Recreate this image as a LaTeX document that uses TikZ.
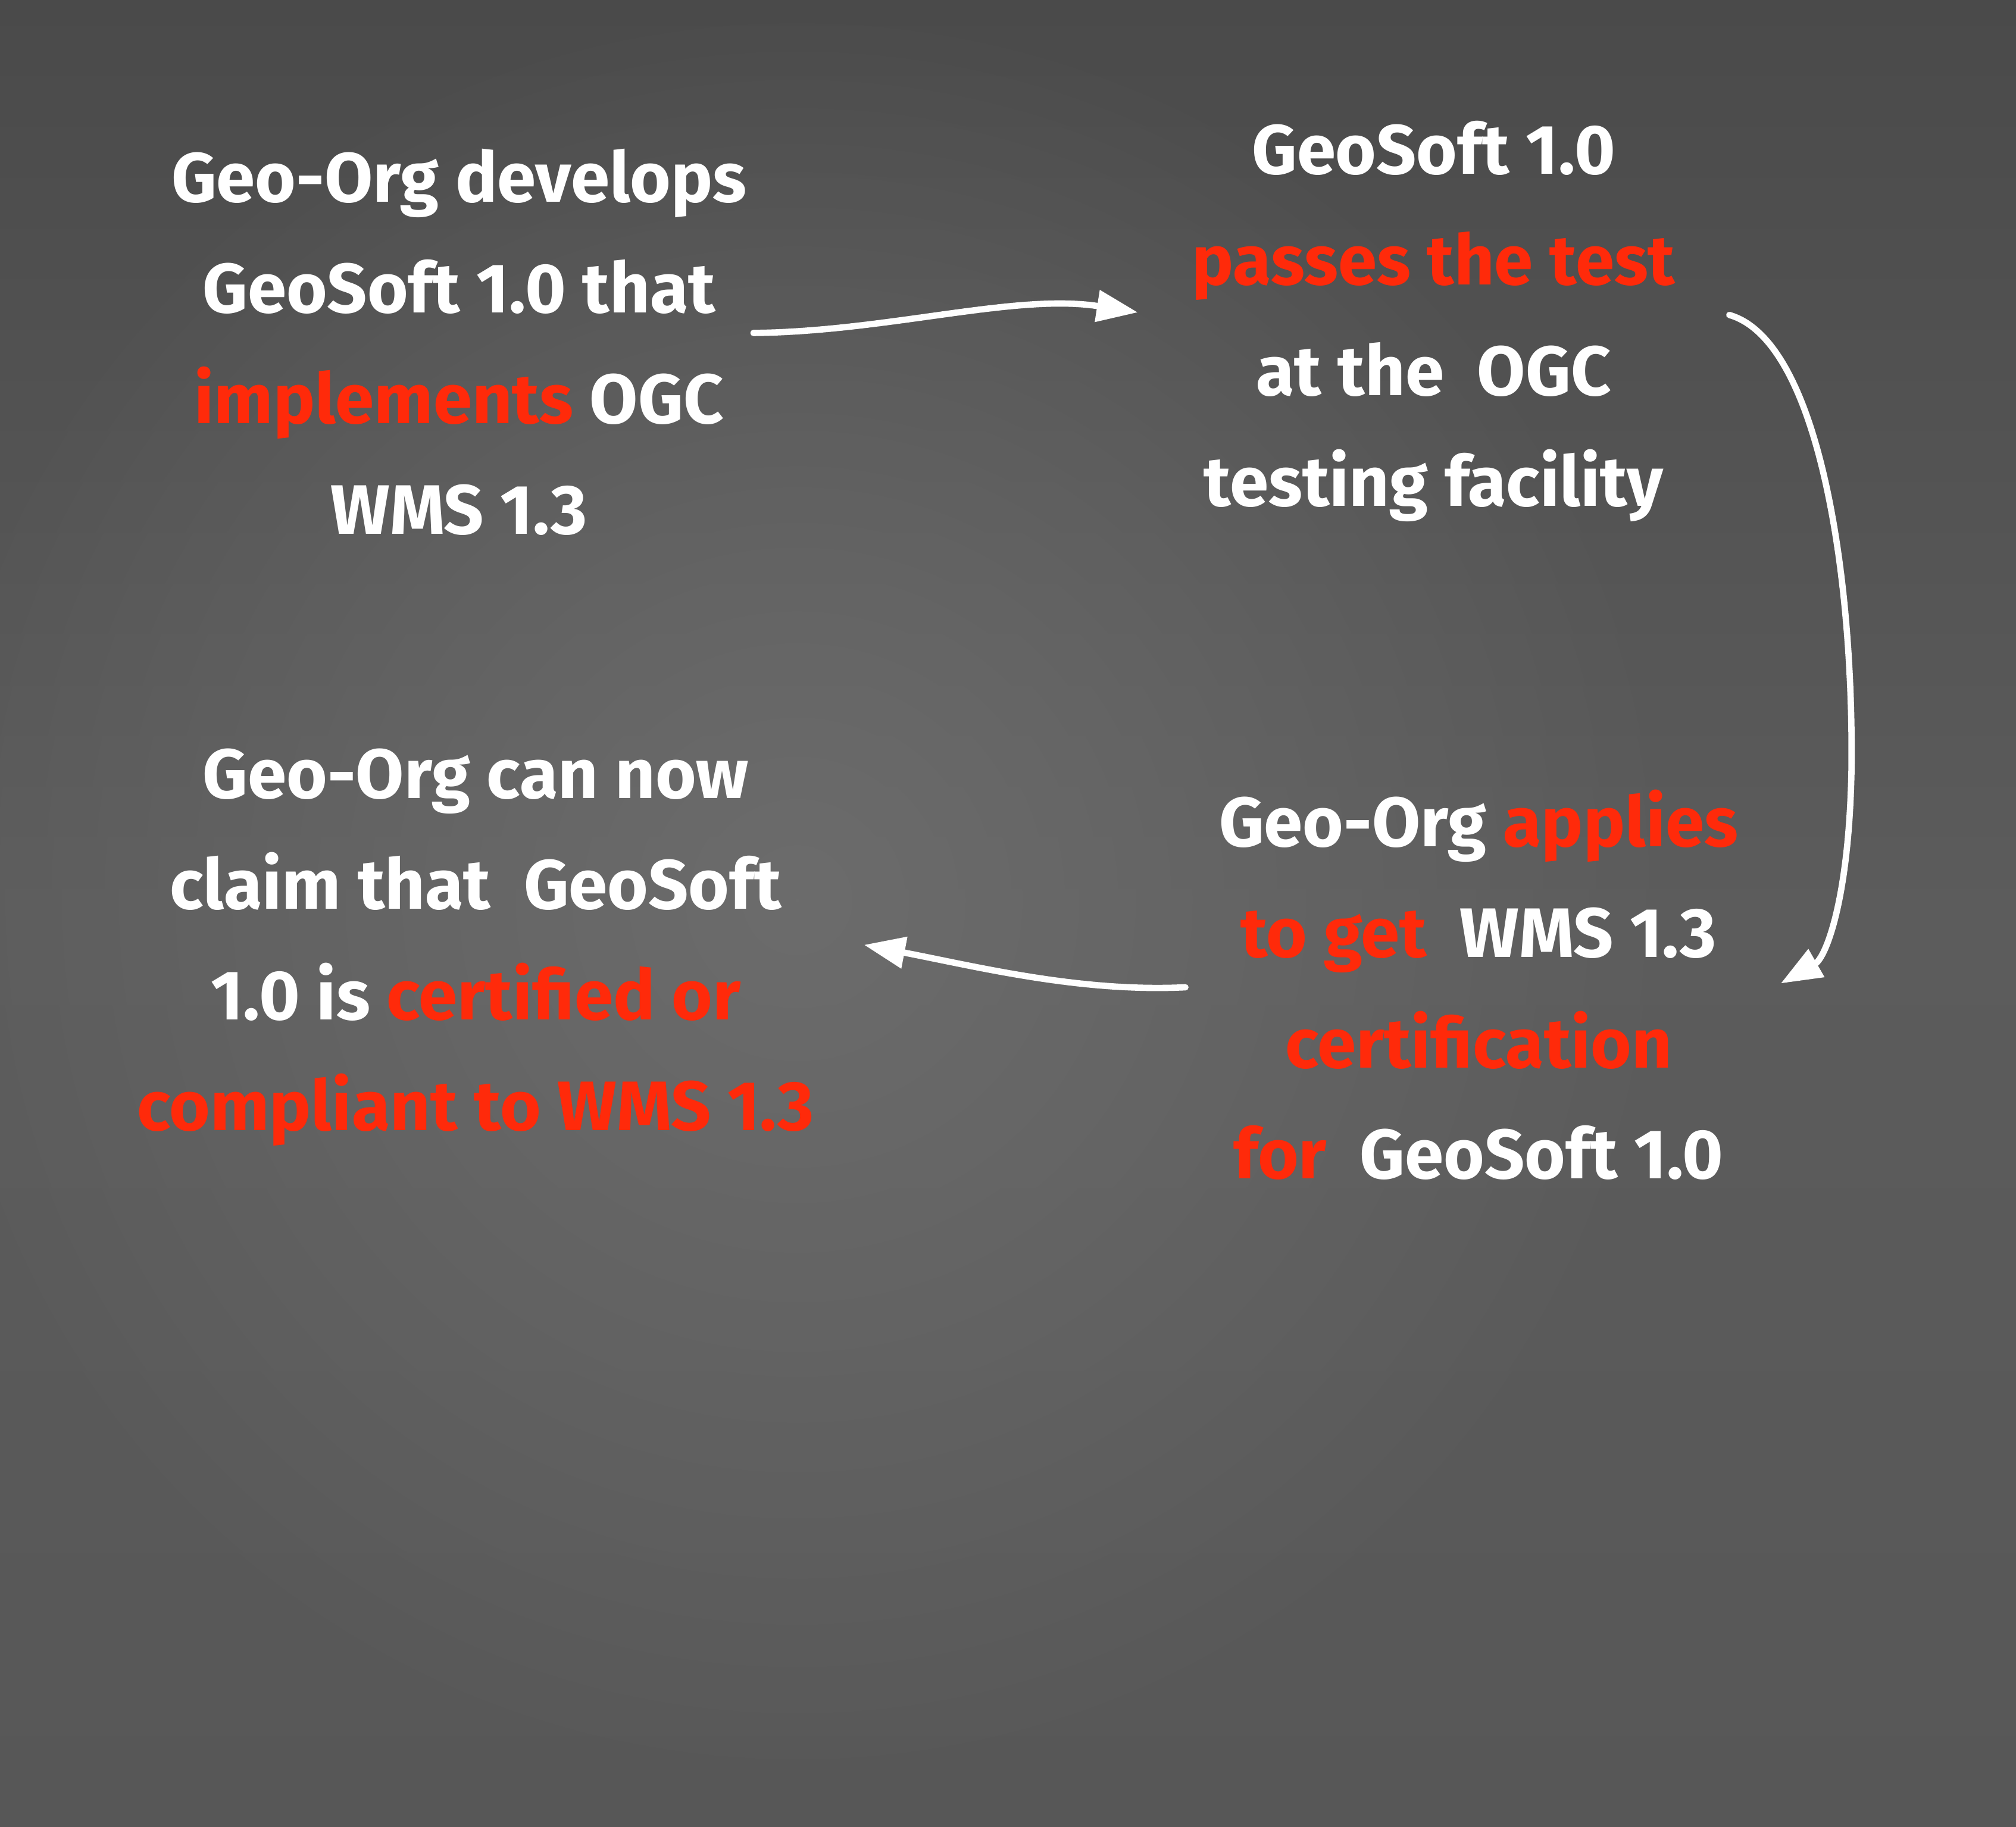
\documentclass[tikz,border=0pt]{standalone}
\usepackage{fontspec}
\setmainfont{Fira Sans}
\usetikzlibrary{arrows.meta,fadings}
\definecolor{chalkred}{HTML}{FF2A0A}
\definecolor{bgtop}{HTML}{4A4A4A}
\definecolor{bgmid}{HTML}{5C5C5C}
\definecolor{bgbot}{HTML}{575757}
\definecolor{bglight}{HTML}{6C6C6C}
\tikzfading[name=spotfade, inner color=transparent!0, outer color=transparent!100]
\begin{document}
\begin{tikzpicture}[x=0.02cm,y=-0.02cm,
  blocktext/.style={text=white, align=center, font=\fontsize{31pt}{49pt}\selectfont\bfseries, inner sep=0pt},
  flow/.style={draw=white, line width=2.8pt, line cap=round, -{Triangle[length=0.64cm,width=0.48cm]}}]
\fill[top color=bgtop, bottom color=bgbot, middle color=bgmid] (0,0) rectangle (1568,1421);
\useasboundingbox (0,0) rectangle (1568,1421);
\fill[bglight, path fading=spotfade] (620,700) circle (700);

\node[blocktext] (develops) at (357,266) {Geo-Org develops\\GeoSoft 1.0 that\\\textcolor{chalkred}{implements} OGC\\WMS 1.3};
\node[blocktext] (passes) at (1115,250) {GeoSoft 1.0\\\textcolor{chalkred}{passes the test}\\at the~ OGC\\testing facility};
\node[blocktext] (applies) at (1150,766) {Geo-Org \textcolor{chalkred}{applies}\\\textcolor{chalkred}{to get}~ WMS 1.3\\\textcolor{chalkred}{certification}\\\textcolor{chalkred}{for}~ GeoSoft 1.0};
\node[blocktext] (claim) at (370,737) {Geo-Org can now\\claim that~ GeoSoft\\1.0 is \textcolor{chalkred}{certified or}\\\textcolor{chalkred}{compliant to WMS 1.3}};

\coordinate (a1s) at (586,259);
\coordinate (a1e) at (885,243);
\coordinate (a2s) at (1345,245);
\coordinate (a2e) at (1385,765);
\coordinate (a3s) at (922,768);
\coordinate (a3e) at (672,735);

\draw[flow] (a1s) .. controls (690,258) and (790,228) .. (a1e);
\draw[flow] (a2s) .. controls (1415,265) and (1442,450) .. (1440,600) .. controls (1438,700) and (1420,745) .. (a2e);
\draw[flow] (a3s) .. controls (840,772) and (760,752) .. (a3e);
\end{tikzpicture}
\end{document}
